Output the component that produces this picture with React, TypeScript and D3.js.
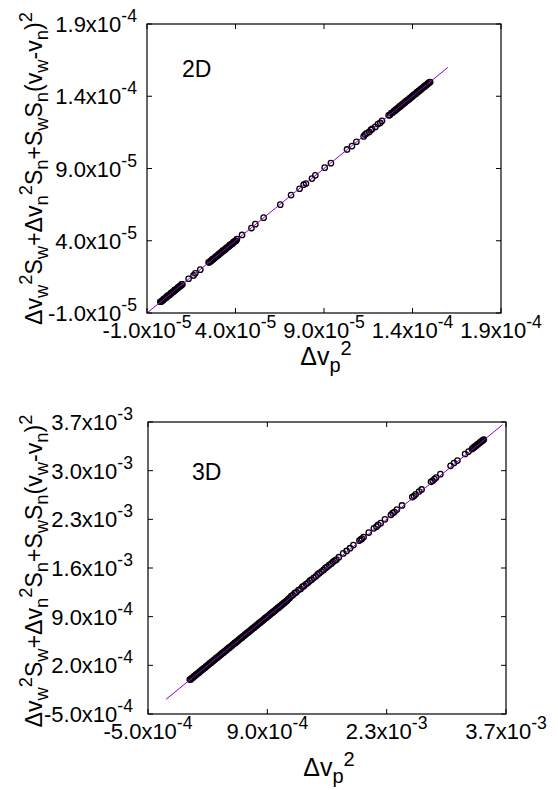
import * as d3 from "d3";

// values are in units of 1e-5 (2D panel) and 1e-4 (3D panel)
const X_TICKS_2D = [-1, 4, 9, 14, 19];
const Y_TICKS_2D = [-1, 4, 9, 14, 19];
const TICK_LABELS_2D = ["-1.0x10^{-5}", "4.0x10^{-5}", "9.0x10^{-5}", "1.4x10^{-4}", "1.9x10^{-4}"];

const X_TICKS_3D = [-5, 9, 23, 37];
const X_TICK_LABELS_3D = ["-5.0x10^{-4}", "9.0x10^{-4}", "2.3x10^{-3}", "3.7x10^{-3}"];
const Y_TICKS_3D = [-5, 2, 9, 16, 23, 30, 37];
const Y_TICK_LABELS_3D = [
  "-5.0x10^{-4}", "2.0x10^{-4}", "9.0x10^{-4}", "1.6x10^{-3}",
  "2.3x10^{-3}", "3.0x10^{-3}", "3.7x10^{-3}",
];

// y = x reference line, start / end
const LINE_2D = [-1, 16];
const LINE_3D = [-2.9, 36.6];

const Y_TITLE = "Δv_w^2S_w+Δv_n^2S_n+S_wS_n(v_w-v_n)^2";
const X_TITLE = "Δv_p^2";

const POINTS_2D: [number, number][] = [
  [-0.25, -0.22], [-0.2, -0.22], [-0.15, -0.14], [-0.1, -0.13], [-0.05, -0.02], [0.0, -0.02],
  [0.05, 0.06], [0.1, 0.07], [0.15, 0.18], [0.2, 0.18], [0.25, 0.26], [0.3, 0.27],
  [0.35, 0.38], [0.4, 0.38], [0.45, 0.46], [0.5, 0.47], [0.55, 0.58], [0.6, 0.58],
  [0.65, 0.66], [0.7, 0.67], [0.75, 0.78], [0.8, 0.78], [0.85, 0.86], [0.9, 0.87],
  [0.95, 0.98], [1.0, 0.98],
  [1.35, 1.37], [1.63, 1.6], [1.73, 1.75], [2.01, 2.0],
  [2.48, 2.51], [2.53, 2.51], [2.58, 2.59], [2.63, 2.6], [2.68, 2.71], [2.73, 2.71],
  [2.78, 2.79], [2.83, 2.8], [2.88, 2.91], [2.93, 2.91], [2.98, 2.99], [3.03, 3.0],
  [3.08, 3.11], [3.13, 3.11], [3.18, 3.19], [3.23, 3.2], [3.28, 3.31], [3.33, 3.31],
  [3.38, 3.39], [3.43, 3.4], [3.48, 3.51], [3.53, 3.51], [3.58, 3.59], [3.63, 3.6],
  [3.68, 3.71], [3.73, 3.71], [3.78, 3.79], [3.83, 3.8], [3.88, 3.91], [3.93, 3.91],
  [3.98, 3.99], [4.03, 4.0], [4.08, 4.11],
  [4.37, 4.4], [4.9, 4.88], [5.12, 5.15], [5.59, 5.6], [6.53, 6.5], [7.14, 7.16],
  [7.62, 7.6], [7.85, 7.88], [7.98, 7.96], [8.32, 8.3], [8.51, 8.53], [9.04, 9.06],
  [9.39, 9.37], [10.3, 10.32], [10.58, 10.55], [10.83, 10.85],
  [11.24, 11.22], [11.32, 11.35], [11.4, 11.43], [11.55, 11.53], [11.65, 11.67],
  [11.72, 11.74], [11.9, 11.88], [12.05, 12.08], [12.18, 12.16], [12.28, 12.3],
  [12.65, 12.68], [12.72, 12.7], [12.8, 12.83], [12.88, 12.86], [12.95, 12.98],
  [13.0, 12.98], [13.05, 13.08], [13.1, 13.08], [13.15, 13.17], [13.2, 13.18],
  [13.25, 13.28], [13.3, 13.28], [13.35, 13.37], [13.4, 13.38], [13.45, 13.48],
  [13.5, 13.48], [13.55, 13.57], [13.6, 13.58], [13.65, 13.68], [13.7, 13.68],
  [13.75, 13.77], [13.8, 13.78], [13.85, 13.88], [13.9, 13.88], [13.95, 13.97],
  [14.0, 13.98], [14.05, 14.08], [14.1, 14.08], [14.15, 14.17], [14.2, 14.18],
  [14.25, 14.28], [14.3, 14.28], [14.35, 14.37], [14.4, 14.38], [14.45, 14.48],
  [14.5, 14.48], [14.55, 14.57], [14.6, 14.58], [14.65, 14.68], [14.7, 14.68],
  [14.75, 14.77], [14.8, 14.78], [14.85, 14.88], [14.9, 14.88], [14.95, 14.97],
  [15.0, 14.98],
];

const POINTS_3D: [number, number][] = [
  [-0.1, -0.05], [0.02, -0.02], [0.13, 0.18], [0.26, 0.22], [0.37, 0.42], [0.5, 0.46],
  [0.61, 0.66], [0.74, 0.7], [0.85, 0.9], [0.98, 0.94], [1.09, 1.14], [1.22, 1.18],
  [1.33, 1.38], [1.46, 1.42], [1.57, 1.62], [1.7, 1.66], [1.81, 1.86], [1.94, 1.9],
  [2.05, 2.1], [2.18, 2.14], [2.29, 2.34], [2.42, 2.38], [2.53, 2.58], [2.66, 2.62],
  [2.77, 2.82], [2.9, 2.86], [3.01, 3.06], [3.14, 3.1], [3.25, 3.3], [3.38, 3.34],
  [3.49, 3.54], [3.62, 3.58], [3.73, 3.78], [3.86, 3.82], [3.97, 4.02], [4.1, 4.06],
  [4.21, 4.26], [4.34, 4.3], [4.45, 4.5], [4.58, 4.54], [4.69, 4.74], [4.82, 4.78],
  [4.93, 4.98], [5.06, 5.02], [5.17, 5.22], [5.3, 5.26], [5.41, 5.46], [5.54, 5.5],
  [5.65, 5.7], [5.78, 5.74], [5.89, 5.94], [6.02, 5.98], [6.13, 6.18], [6.26, 6.22],
  [6.37, 6.42], [6.5, 6.46], [6.61, 6.66], [6.74, 6.7], [6.85, 6.9], [6.98, 6.94],
  [7.09, 7.14], [7.22, 7.18], [7.33, 7.38], [7.46, 7.42], [7.57, 7.62], [7.7, 7.66],
  [7.81, 7.86], [7.94, 7.9], [8.05, 8.1], [8.18, 8.14], [8.29, 8.34], [8.42, 8.38],
  [8.53, 8.58], [8.66, 8.62], [8.77, 8.82], [8.9, 8.86], [9.01, 9.06], [9.14, 9.1],
  [9.25, 9.3], [9.38, 9.34], [9.49, 9.54], [9.62, 9.58], [9.73, 9.78], [9.86, 9.82],
  [9.97, 10.02], [10.1, 10.06], [10.21, 10.26], [10.34, 10.3], [10.45, 10.5], [10.58, 10.54],
  [10.69, 10.74], [10.82, 10.78], [10.93, 10.98], [11.06, 11.02], [11.17, 11.22], [11.3, 11.28],
  [11.42, 11.5], [11.6, 11.66],
  [11.8, 11.95], [12.0, 12.1], [12.2, 12.38], [12.4, 12.5], [12.65, 12.82], [12.9, 12.98],
  [13.1, 13.28], [13.3, 13.42], [13.55, 13.7], [13.8, 13.9], [14.0, 14.18], [14.2, 14.32],
  [14.45, 14.6], [14.7, 14.8], [14.9, 15.08], [15.1, 15.25], [15.35, 15.5], [15.6, 15.72],
  [15.8, 15.98], [16.0, 16.15], [16.25, 16.4], [16.5, 16.62], [16.7, 16.88], [16.9, 17.05],
  [17.1, 17.2], [17.4, 17.55], [17.9, 18.1], [18.3, 18.45], [18.7, 18.85], [19.1, 19.3],
  [19.8, 19.95], [19.95, 20.1], [20.1, 20.22], [20.3, 20.45], [20.9, 21.1], [21.5, 21.7],
  [21.8, 21.95], [22.0, 22.2], [22.3, 22.45], [22.8, 23.0], [23.5, 23.65], [23.7, 23.9],
  [23.9, 24.05], [24.2, 24.4], [24.8, 25.0], [26.0, 26.2], [26.2, 26.35], [26.4, 26.6],
  [26.8, 27.0], [27.1, 27.3], [28.2, 28.4], [28.4, 28.55], [28.6, 28.8], [28.8, 29.0],
  [29.3, 29.5], [30.5, 30.7], [30.9, 31.1], [31.3, 31.45], [32.2, 32.4], [32.6, 32.75],
  [33.0, 33.1], [33.1, 33.22], [33.2, 33.3], [33.3, 33.42], [33.4, 33.5], [33.5, 33.62],
  [33.6, 33.7], [33.7, 33.82], [33.8, 33.9], [33.9, 34.0], [34.0, 34.1], [34.1, 34.18],
  [34.2, 34.3], [34.3, 34.38], [34.4, 34.47],
];

const FONT = "'Liberation Sans', Arial, Helvetica, sans-serif";

// gnuplot-ish enhanced text: _x / ^x or _{..} / ^{..}
function parseRich(s: string) {
  const segs: { t: string; k: "n" | "sub" | "sup" }[] = [];
  let i = 0;
  let buf = "";
  while (i < s.length) {
    const c = s[i];
    if (c === "_" || c === "^") {
      if (buf) { segs.push({ t: buf, k: "n" }); buf = ""; }
      let t = "";
      if (s[i + 1] === "{") {
        const j = s.indexOf("}", i + 2);
        t = s.slice(i + 2, j);
        i = j + 1;
      } else {
        t = s[i + 1];
        i += 2;
      }
      segs.push({ t, k: c === "_" ? "sub" : "sup" });
    } else {
      buf += c;
      i++;
    }
  }
  if (buf) segs.push({ t: buf, k: "n" });
  return segs;
}

function RichText({ text, size, supRise = 0.45, ...rest }: any) {
  const segs = parseRich(text);
  let cur = 0;
  return (
    <text fontFamily={FONT} fontSize={size} fill="#000" {...rest}>
      {segs.map((s, i) => {
        const target = s.k === "sub" ? size * 0.28 : s.k === "sup" ? -size * supRise : 0;
        const dy = target - cur;
        cur = target;
        return (
          <tspan key={i} dy={dy} fontSize={s.k === "n" ? size : size * 0.8}>
            {s.t}
          </tspan>
        );
      })}
    </text>
  );
}

function Panel({ frame, points, domainX, domainY, xTicks, xLabels, yTicks, yLabels, line, tag, layout }: any) {
  const { left, right, top, bottom } = frame;
  const x = d3.scaleLinear().domain(domainX).range([left, right]);
  const y = d3.scaleLinear().domain(domainY).range([bottom, top]);
  const tick = 5;
  const diag = d3.line<number>().x((d) => x(d)).y((d) => y(d));
  const cy = (top + bottom) / 2;
  const cx = (left + right) / 2;
  return (
    <g>
      {points.map((p: [number, number], i: number) => (
        <circle key={i} cx={x(p[0])} cy={y(p[1])} r={2.7} fill="none" stroke="#000" strokeWidth={1.3} />
      ))}
      {/* fit line drawn over the points, as in the original */}
      <path d={diag(line) ?? ""} stroke="#9400d3" strokeWidth={1} fill="none" />
      <rect x={left} y={top} width={right - left} height={bottom - top} fill="none" stroke="#000" strokeWidth={1.2} />
      {xTicks.map((t: number, i: number) => (
        <g key={"x" + i}>
          <line x1={x(t)} x2={x(t)} y1={bottom} y2={bottom - tick} stroke="#000" />
          <line x1={x(t)} x2={x(t)} y1={top} y2={top + tick} stroke="#000" />
          <RichText text={xLabels[i]} size={22} x={x(t)} y={bottom + 25} textAnchor="middle" />
        </g>
      ))}
      {yTicks.map((t: number, i: number) => (
        <g key={"y" + i}>
          <line x1={left} x2={left + tick} y1={y(t)} y2={y(t)} stroke="#000" />
          <line x1={right} x2={right - tick} y1={y(t)} y2={y(t)} stroke="#000" />
          <RichText text={yLabels[i]} size={22} x={left - layout.yLabelGap} y={y(t) + 8} textAnchor="end" />
        </g>
      ))}
      <text x={left + layout.tagDx} y={top + layout.tagDy} fontFamily={FONT} fontSize={23}>{tag}</text>
      <RichText text={X_TITLE} size={25} supRise={0.4} x={cx + 2} y={bottom + layout.xTitleDy} textAnchor="middle" />
      <RichText text={Y_TITLE} size={23} transform={`translate(42,${cy + layout.yTitleDy}) rotate(-90)`} textAnchor="middle" />
    </g>
  );
}

export default function App() {
  return (
    <svg width={558} height={790} style={{ position: "absolute", left: 0, top: 0, background: "#fff" }}>
      <rect width={558} height={790} fill="#fff" />
      <Panel
        frame={{ left: 147, right: 501, top: 24, bottom: 313 }}
        points={POINTS_2D}
        domainX={[-1, 19]}
        domainY={[-1, 19]}
        xTicks={X_TICKS_2D}
        xLabels={TICK_LABELS_2D}
        yTicks={Y_TICKS_2D}
        yLabels={TICK_LABELS_2D}
        line={LINE_2D}
        tag="2D"
        layout={{ yLabelGap: 10, tagDx: 35, tagDy: 53, xTitleDy: 52, yTitleDy: 0 }}
      />
      <Panel
        frame={{ left: 148, right: 506, top: 422, bottom: 714 }}
        points={POINTS_3D}
        domainX={[-5, 37]}
        domainY={[-5, 37]}
        xTicks={X_TICKS_3D}
        xLabels={X_TICK_LABELS_3D}
        yTicks={Y_TICKS_3D}
        yLabels={Y_TICK_LABELS_3D}
        line={LINE_3D}
        tag="3D"
        layout={{ yLabelGap: 15, tagDx: 44, tagDy: 58, xTitleDy: 62, yTitleDy: 3 }}
      />
    </svg>
  );
}
